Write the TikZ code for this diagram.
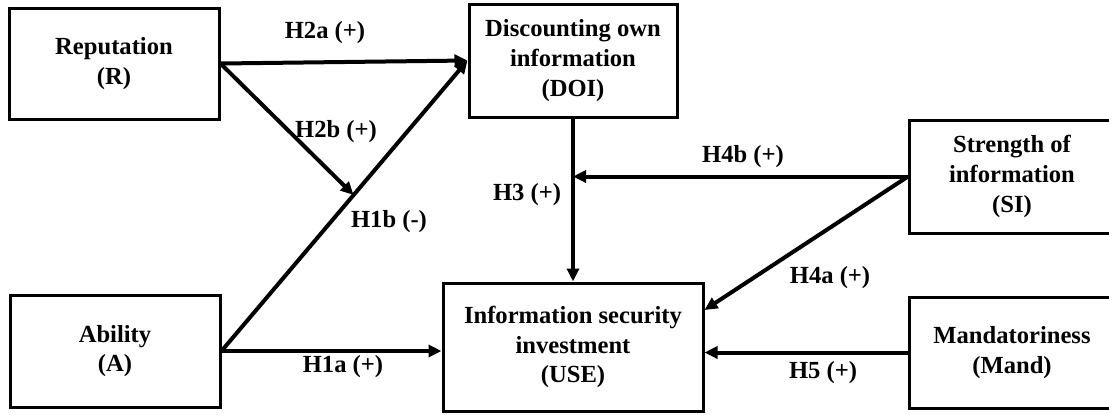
\documentclass[tikz,border=0pt]{standalone}
\usepackage{fontspec}
\setmainfont{Liberation Serif}
\usetikzlibrary{arrows.meta}

\begin{document}
\begin{tikzpicture}[x=0.5pt, y=-0.5pt,
    box/.style={draw, line width=1.5pt, align=center, inner sep=0pt,
      font=\bfseries\fontsize{12.3}{14.9}\selectfont},
    txt/.style={align=center, inner sep=0pt, font=\bfseries\fontsize{12.3}{14.9}\selectfont},
    hyp/.style={inner sep=1pt, font=\bfseries\fontsize{12.3}{14.9}\selectfont},
    link/.style={line width=2pt, -{Triangle[length=6.5pt, width=6pt]}}]
  \useasboundingbox (0,0) rectangle (1109,414);
  \clip (0,0) rectangle (1109,414);
  % constructs
  \node[box, minimum width=105pt, minimum height=55.5pt] (R) at (114,63.5) {Reputation\\(R)};
  \node[box, minimum width=105pt, minimum height=56pt] (A) at (115,351) {Ability\\(A)};
  \node[box, minimum width=104pt, minimum height=56.5pt] (DOI) at (573,60.5) {Discounting own\\information\\(DOI)};
  \node[box, minimum width=130pt, minimum height=64pt] (USE) at (573,347) {Information security\\investment\\(USE)};
  % right-hand boxes run past the edge of the figure
  \node[box, anchor=west, minimum width=130pt, minimum height=56.5pt] (SI) at (908,176.5) {};
  \node[box, anchor=west, minimum width=130pt, minimum height=55.5pt] (Mand) at (908,352.5) {};
  \node[txt] (SItxt) at (1012,176.5) {Strength of\\information\\(SI)};
  \node[txt] (Mandtxt) at (1012,352.5) {Mandatoriness\\(Mand)};
  % hypotheses
  \draw[link] (A.east) -- (DOI.west) coordinate[pos=0.537] (mod);
  \draw[link] (R.east) -- (DOI.west);
  \draw[link] (R.east) -- (mod);
  \draw[link] (A.east) -- (A.east -| USE.west);
  \draw[link] (DOI.south) -- (USE.north);
  \draw[link] (SI.west) -- (SI.west -| DOI.south);
  \draw[link] (SI.west) -- ([yshift=18.5pt]USE.east);
  \draw[link] (Mand.west) -- (Mand.west -| USE.east);
  \node[hyp] (h2a) at (325,33) {H2a (+)};
  \node[hyp] (h2b) at (336,132) {H2b (+)};
  \node[hyp] (h1b) at (389,222) {H1b (-)};
  \node[hyp] (h1a) at (343,367) {H1a (+)};
  \node[hyp] (h3) at (527,195) {H3 (+)};
  \node[hyp] (h4b) at (743,157) {H4b (+)};
  \node[hyp] (h4a) at (830,278) {H4a (+)};
  \node[hyp] (h5) at (823,373) {H5 (+)};
\end{tikzpicture}
\end{document}
